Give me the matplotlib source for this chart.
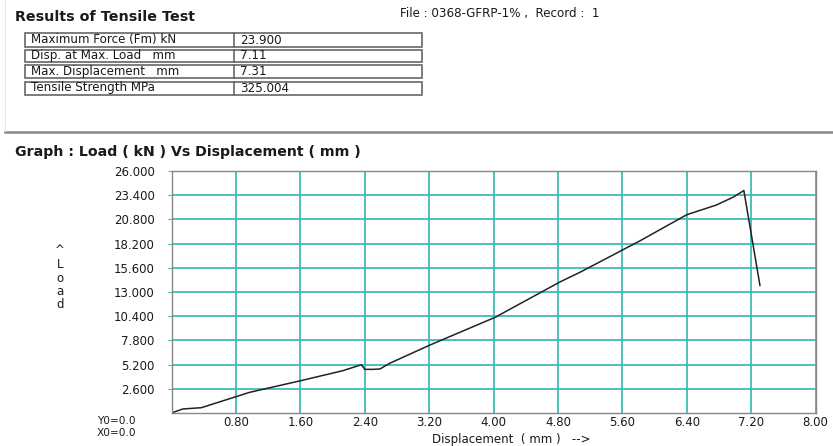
import matplotlib
matplotlib.use("Agg")
import matplotlib.pyplot as plt
from matplotlib.patches import Rectangle
from matplotlib.lines import Line2D
from matplotlib.transforms import ScaledTranslation

plt.rcParams['font.family'] = ['DejaVu Sans']

# ---- data ----
disp_mm = [0, 0.14, 0.37, 0.80, 0.97, 1.59, 2.13, 2.36, 2.40, 2.50, 2.59, 2.71,
           3.21, 4.02, 4.83, 5.07, 5.82, 6.40, 6.77, 6.98, 7.11, 7.31]
load_kn = [0, 0.43, 0.57, 1.75, 2.22, 3.44, 4.55, 5.19, 4.69, 4.69, 4.73, 5.34,
           7.30, 10.28, 14.10, 15.10, 18.50, 21.30, 22.35, 23.20, 23.90, 13.70]

y_ticks = [2.6, 5.2, 7.8, 10.4, 13.0, 15.6, 18.2, 20.8, 23.4, 26.0]
x_ticks = [0.8, 1.6, 2.4, 3.2, 4.0, 4.8, 5.6, 6.4, 7.2, 8.0]

table_labels = ["Maximum Force (Fm) kN", "Disp. at Max. Load   mm",
                "Max. Displacement   mm", "Tensile Strength MPa"]
table_values = ["23.900", "7.11", "7.31", "325.004"]

W, H = 833, 446
fig = plt.figure(figsize=(W / 100, H / 100), dpi=100)
fig.patch.set_facecolor('white')
TXT = '#1a1a1a'

def fx(px):
    return px / W

def fy(py):
    return 1 - py / H

# ---- header ----
fig.text(fx(15), fy(17), "Results of Tensile Test", fontsize=10.3, fontweight='bold',
         va='center', ha='left', color=TXT)
fig.text(fx(400), fy(14), "File : 0368-GFRP-1% ,  Record :  1", fontsize=8.6,
         va='center', ha='left', color=TXT)

# table
tx0, tx1, tdiv = 25, 422, 234
row_spans = [(33, 47), (49.5, 61.5), (65, 77.5), (81.5, 94.5)]
for (top, bot), lab, val in zip(row_spans, table_labels, table_values):
    fig.patches.append(Rectangle((fx(tx0), fy(bot)), fx(tx1 - tx0), (bot - top) / H,
                                 transform=fig.transFigure, fill=False,
                                 edgecolor='#666666', linewidth=1.2))
    fig.lines.append(Line2D([fx(tdiv), fx(tdiv)], [fy(top), fy(bot)],
                            transform=fig.transFigure, color='#666666', linewidth=1.2))
    mid = (top + bot) / 2
    fig.text(fx(31), fy(mid), lab, fontsize=8.6, va='center', ha='left', color=TXT)
    fig.text(fx(tdiv + 6), fy(mid), val, fontsize=8.6, va='center', ha='left', color=TXT)

# separator line
fig.lines.append(Line2D([fx(5), fx(833)], [fy(132), fy(132)], transform=fig.transFigure,
                        color='#888888', linewidth=1.8))
fig.lines.append(Line2D([fx(5), fx(5)], [fy(0), fy(131)], transform=fig.transFigure,
                        color='#e4e4e4', linewidth=0.8))

fig.text(fx(15), fy(152), "Graph : Load ( kN ) Vs Displacement ( mm )", fontsize=10.2,
         fontweight='bold', va='center', ha='left', color=TXT)

# ---- axes ----
ax_l, ax_r, ax_t, ax_b = 171.5, 815.5, 171, 413
ax = fig.add_axes([fx(ax_l), fy(ax_b), fx(ax_r - ax_l), (ax_b - ax_t) / H])
ax.set_xlim(0, 8.0)
ax.set_ylim(0, 26.0)
ax.set_xticks(x_ticks)
ax.set_yticks(y_ticks)
ax.set_xticklabels([f"{v:.2f}" for v in x_ticks], fontsize=8.5, color=TXT)
ax.set_yticklabels([f"{v:.3f}" for v in y_ticks], fontsize=8.5, color=TXT)
shift = ScaledTranslation(4 / 100, 0, fig.dpi_scale_trans)
for lbl in ax.get_xticklabels():
    lbl.set_transform(lbl.get_transform() + shift)
ax.tick_params(axis='x', length=0, pad=2.5)
ax.tick_params(axis='y', length=3, color='#3dbdb5', pad=9)
ax.grid(True, color='#3dbdb5', linewidth=1.3)
ax.set_axisbelow(True)
for s in ax.spines.values():
    s.set_color('#888888')
    s.set_linewidth(1.0)

ax.plot(disp_mm, load_kn, color='#222222', linewidth=1.1)

# axis captions
fig.text(fx(60), fy(278), "^\nL\no\na\nd", fontsize=8.5, ha='center', va='center',
         linespacing=1.05, color=TXT)
fig.text(fx(97), fy(421.5), "Y0=0.0", fontsize=7.6, ha='left', va='center', color=TXT)
fig.text(fx(97), fy(432.5), "X0=0.0", fontsize=7.6, ha='left', va='center', color=TXT)
fig.text(fx(432), fy(440), "Displacement  ( mm )   -->", fontsize=8.5, ha='left',
         va='center', color=TXT)

fig.savefig("out.png", dpi=100, facecolor='white')
